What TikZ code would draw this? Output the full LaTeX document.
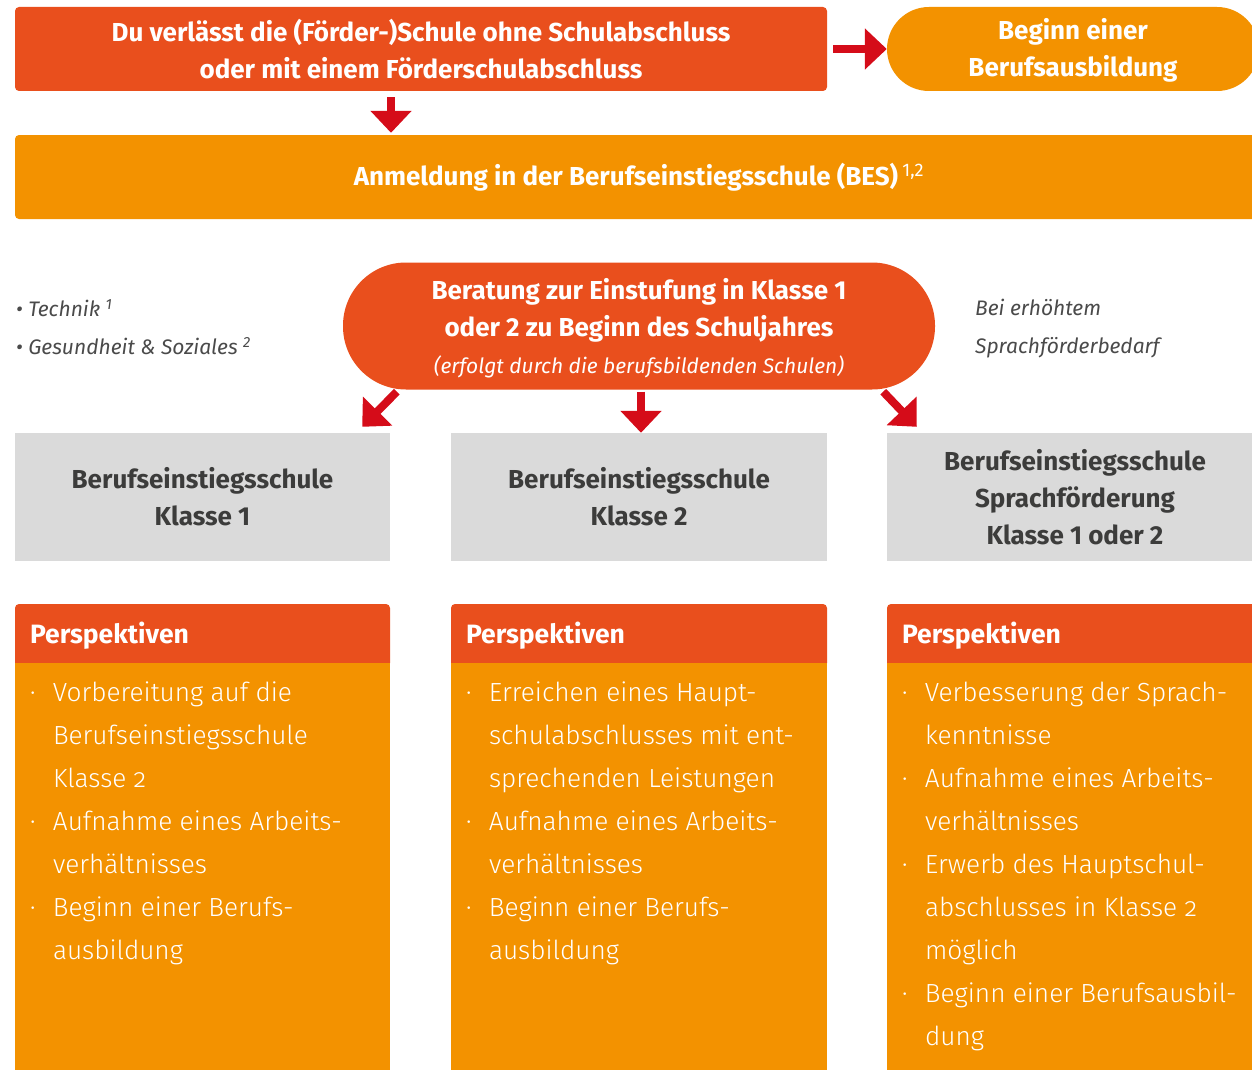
\documentclass[tikz,border=0pt]{standalone}
\usepackage{fontspec}
\setmainfont{Fira Sans}
\IfFontExistsTF{Fira Sans Light}
  {\newfontfamily\lightfont[Numbers=OldStyle]{Fira Sans Light}}
  {\newfontfamily\lightfont[Numbers=OldStyle]{Fira Sans}}
\usetikzlibrary{arrows.meta,calc,positioning}

\definecolor{besred}{HTML}{E94F1D}
\definecolor{besorange}{HTML}{F39200}
\definecolor{arrred}{HTML}{D50C19}
\definecolor{besgray}{HTML}{DADADA}
\definecolor{darktext}{HTML}{3C3C3B}
\definecolor{sidetext}{HTML}{4A4A4A}

\newcommand{\bul}{\makebox[23pt][l]{\textperiodcentered}}
\newcommand{\ind}{\hspace*{23pt}}

\tikzset{
  redbox/.style={rectangle,fill=besred,rounded corners=4pt,inner sep=0pt,text=white,
    font=\bfseries\fontsize{26}{37}\selectfont,align=center},
  orangebox/.style={redbox,fill=besorange},
  pill/.style={orangebox,rounded corners=42pt},
  graybox/.style={rectangle,fill=besgray,inner sep=0pt,text=darktext,minimum height=128pt,
    font=\bfseries\fontsize{26}{37}\selectfont,align=center},
  phead/.style={rectangle,fill=besred,rounded corners=4pt,inner xsep=15pt,inner ysep=0pt,
    text width=345pt,minimum height=63pt,align=left,text=white,font=\bfseries\fontsize{26.5}{30}\selectfont},
  pbody/.style={rectangle,fill=besorange,inner sep=0pt,minimum height=420pt},
  perstext/.style={inner sep=0pt,align=left,text=white,font=\lightfont\fontsize{26.2}{43}\selectfont},
  sidenote/.style={inner sep=0pt,align=left,text=sidetext,font=\itshape\fontsize{21}{38}\selectfont},
  redarrow/.style={color=arrred,line width=8pt,-{Triangle[width=40pt,length=22pt]}}
}

\begin{document}
\begin{tikzpicture}[x=1pt,y=-1pt]
  \useasboundingbox (0,0) rectangle (1252,1070);
  \clip (0,0) rectangle (1252,1070);

  % top row
  \node[redbox,minimum width=812pt,minimum height=84pt] (start) at (421,49)
    {Du verlässt die (Förder-)Schule ohne Schulabschluss\\oder mit einem Förderschulabschluss};
  \node[pill,minimum width=372pt,minimum height=84pt] (ausb) at (1073,49)
    {\rule{0pt}{24pt}Beginn einer\\Berufsausbildung};
  \node[orangebox,minimum width=1248pt,minimum height=84pt] (bes) at (639,177)
    {Anmeldung in der Berufseinstiegsschule (BES)\,\textsuperscript{\mdseries 1,2}};

  % counselling
  \node[redbox,rounded corners=63pt,minimum width=592pt,minimum height=127pt] (ber) at (639,326)
    {\rule{0pt}{25pt}Beratung zur Einstufung in Klasse 1\\oder 2 zu Beginn des Schuljahres\\
     \mdseries\itshape\fontsize{21}{37}\selectfont(erfolgt durch die berufsbildenden Schulen)};
  \node[sidenote,anchor=west] (fach) at (16,327)
    {\textbullet\ Technik \textsuperscript{1}\\\textbullet\ Gesundheit \& Soziales \textsuperscript{2}};
  \node[sidenote,anchor=west] (sprach) at (975,329) {Bei erhöhtem\\Sprachförderbedarf};

  % classes
  \node[graybox,minimum width=375pt] (k1) at (202.5,497) {Berufseinstiegsschule\\Klasse 1};
  \node[graybox,minimum width=376pt] (k2) at (639,497) {Berufseinstiegsschule\\Klasse 2};
  \node[graybox,minimum width=376pt] (k3) at (1075,497)
    {Berufseinstiegsschule\\Sprachförderung\\Klasse 1 oder 2};

  % perspectives
  \node[phead] (h1) at (202.5,635.5) {Perspektiven};
  \node[phead,text width=346pt] (h2) at (639,635.5) {Perspektiven};
  \node[phead,text width=346pt] (h3) at (1075,635.5) {Perspektiven};
  \node[pbody,minimum width=375pt,anchor=north] (b1) at (202.5,663) {};
  \node[pbody,minimum width=376pt,anchor=north] (b2) at (639,663) {};
  \node[pbody,minimum width=376pt,anchor=north] (b3) at (1075,663) {};

  \node[perstext,anchor=north west] (t1) at ([xshift=15pt,yshift=-19pt]b1.north west)
    {\bul Vorbereitung auf die\\\ind Berufseinstiegsschule\\\ind Klasse 2\\
     \bul Aufnahme eines Arbeits-\\\ind verhältnisses\\
     \bul Beginn einer Berufs-\\\ind ausbildung};
  \node[perstext,anchor=north west] (t2) at ([xshift=15pt,yshift=-19pt]b2.north west)
    {\bul Erreichen eines Haupt-\\\ind schulabschlusses mit ent-\\\ind sprechenden Leistungen\\
     \bul Aufnahme eines Arbeits-\\\ind verhältnisses\\
     \bul Beginn einer Berufs-\\\ind ausbildung};
  \node[perstext,anchor=north west] (t3) at ([xshift=15pt,yshift=-19pt]b3.north west)
    {\bul Verbesserung der Sprach-\\\ind kenntnisse\\
     \bul Aufnahme eines Arbeits-\\\ind verhältnisses\\
     \bul Erwerb des Hauptschul-\\\ind abschlusses in Klasse 2\\\ind möglich\\
     \bul Beginn einer Berufsausbil-\\\ind dung};

  % arrows
  \path[redarrow]
    (start.east) edge[shorten <=6pt] (ausb.west)
    ([xshift=-30pt]start.south) edge[shorten <=6pt,shorten >=2pt] ([xshift=-30pt]start.south |- bes.north)
    ([xshift=54pt,yshift=-2pt]ber.south west) edge ([xshift=-28pt,yshift=6pt]k1.north east)
    ([xshift=2pt]ber.south) edge[shorten <=2pt] ([xshift=2pt]k2.north)
    ([xshift=-52pt,yshift=-2pt]ber.south east) edge ([xshift=30pt,yshift=6pt]k3.north west);
\end{tikzpicture}
\end{document}
